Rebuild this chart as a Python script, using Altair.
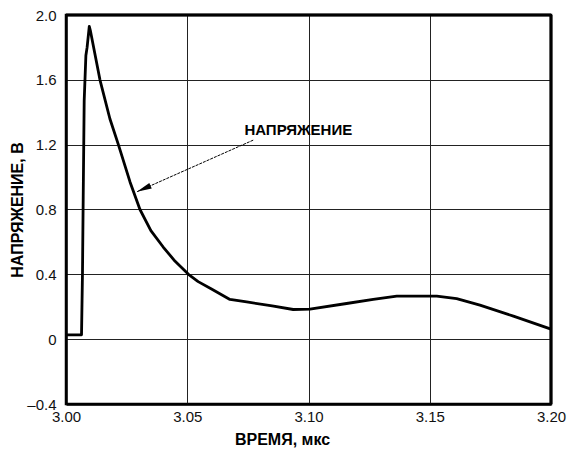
import altair as alt
import pandas as pd

# curve data (time in µs, voltage in V)
time_us = [3.000, 3.0064, 3.0068, 3.0071, 3.0075, 3.0082, 3.0087, 3.0096, 3.0101,
           3.0140, 3.0181, 3.0216, 3.0264, 3.0305, 3.0350, 3.0400, 3.0450, 3.0505,
           3.0545, 3.0600, 3.0676, 3.0745, 3.0850, 3.0937, 3.1006, 3.1157, 3.1267,
           3.1364, 3.1529, 3.1611, 3.1707, 3.1845, 3.2000]
voltage = [0.027, 0.027, 0.41, 0.88, 1.47, 1.75, 1.80, 1.93, 1.90,
           1.60, 1.36, 1.20, 0.97, 0.80, 0.67, 0.57, 0.48, 0.40,
           0.355, 0.31, 0.245, 0.23, 0.205, 0.183, 0.185, 0.22, 0.245,
           0.265, 0.265, 0.25, 0.21, 0.142, 0.062]

x_ticks = [3.00, 3.05, 3.10, 3.15, 3.20]
y_ticks = [-0.4, 0.0, 0.4, 0.8, 1.2, 1.6, 2.0]
x_range = [3.0, 3.2]
y_range = [-0.4, 2.0]

# annotation
label_text = "НАПРЯЖЕНИЕ"
label_x = [3.0958]
label_y = [1.288]
arrow_start_x = [3.0772]
arrow_start_y = [1.228]
arrow_tip_x = [3.0292]
arrow_tip_y = [0.909]

curve = pd.DataFrame({"t": time_us, "v": voltage})
arrow = pd.DataFrame({"x": arrow_start_x, "y": arrow_start_y,
                      "x2": arrow_tip_x, "y2": arrow_tip_y})
tip = pd.DataFrame({"x": arrow_tip_x, "y": arrow_tip_y})
lab = pd.DataFrame({"x": label_x, "y": label_y, "txt": [label_text]})
top_edge = pd.DataFrame({"y": [y_range[1]]})
right_edge = pd.DataFrame({"x": [x_range[1]]})

FONT = "Liberation Sans"

xscale = alt.Scale(domain=x_range, nice=False, zero=False)
yscale = alt.Scale(domain=y_range, nice=False, zero=False)

xaxis = alt.Axis(
    values=x_ticks, format=".2f", title="ВРЕМЯ, мкс", grid=True, ticks=False,
    domain=True, domainColor="black", domainWidth=2.5,
    labelFont=FONT, labelFontSize=15, labelColor="#111",
    labelPadding=5, labelFlush=False,
    titleFont=FONT, titleFontSize=16, titleFontWeight="bold", titleColor="#000",
    titleX=216, titleY=35, titleBaseline="middle", titleAlign="center",
    gridColor="#222", gridWidth=1, gridOpacity=1,
)
yaxis = alt.Axis(
    values=y_ticks, title="НАПРЯЖЕНИЕ, В", grid=True, ticks=False,
    domain=True, domainColor="black", domainWidth=2.5,
    labelExpr="datum.value < 0 ? '–' + format(-datum.value, '.1f') : (datum.value == 0 ? '0' : format(datum.value, '.1f'))",
    labelFont=FONT, labelFontSize=15, labelColor="#111", labelPadding=10,
    labelFlush=False,
    titleFont=FONT, titleFontSize=16, titleFontWeight="bold", titleColor="#000",
    titleX=-49, titleY=194.5, titleAngle=270, titleBaseline="middle",
    titleAlign="center",
    gridColor="#222", gridWidth=1, gridOpacity=1,
)

line = alt.Chart(curve).mark_line(color="black", strokeWidth=2.8, strokeJoin="round").encode(
    x=alt.X("t:Q", scale=xscale, axis=xaxis),
    y=alt.Y("v:Q", scale=yscale, axis=yaxis),
)

frame_top = alt.Chart(top_edge).mark_rule(color="black", strokeWidth=3).encode(
    y=alt.Y("y:Q", scale=yscale),
)
frame_right = alt.Chart(right_edge).mark_rule(color="black", strokeWidth=3).encode(
    x=alt.X("x:Q", scale=xscale),
)

arrow_line = alt.Chart(arrow).mark_rule(color="black", strokeWidth=1, strokeDash=[3, 1]).encode(
    x=alt.X("x:Q", scale=xscale), y=alt.Y("y:Q", scale=yscale),
    x2="x2:Q", y2="y2:Q",
)

arrow_head = alt.Chart(tip).mark_point(
    shape="M0,0L0.4,2L-0.4,2Z", filled=True, color="black", opacity=1,
    size=225, angle=246, strokeWidth=0,
).encode(
    x=alt.X("x:Q", scale=xscale), y=alt.Y("y:Q", scale=yscale),
)

text = alt.Chart(lab).mark_text(
    font=FONT, fontSize=15, fontWeight="bold", color="black",
    align="center", baseline="middle",
).encode(
    x=alt.X("x:Q", scale=xscale), y=alt.Y("y:Q", scale=yscale), text="txt:N",
)

chart = alt.layer(line, frame_top, frame_right, arrow_line, arrow_head, text).properties(
    width=485, height=389,
    padding={"left": 66, "top": 15, "right": 20, "bottom": 46},
    autosize="none",
    background="white",
).configure_view(stroke="black", strokeWidth=2.5, strokeOpacity=1)

chart.save("out.html", embed_options={"renderer": "svg", "actions": False})
